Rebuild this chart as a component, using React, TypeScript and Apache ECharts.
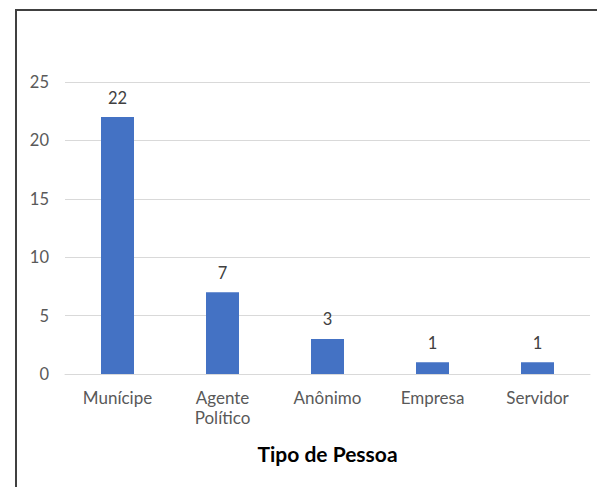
import React, { useEffect, useRef } from "react";
import * as echarts from "echarts";

const categories = ["Munícipe", "Agente\nPolítico", "Anônimo", "Empresa", "Servidor"];
const values = [22, 7, 3, 1, 1];
const yTicks = [0, 5, 10, 15, 20, 25];
const axisTitle = "Tipo de Pessoa";

const FONT = "Lato, 'Open Sans', sans-serif";

export default function App() {
  const ref = useRef<HTMLDivElement>(null);
  useEffect(() => {
    document.body.style.margin = "0";
    const chart = echarts.init(ref.current!, null, { renderer: "svg" });
    chart.setOption({
      animation: false,
      backgroundColor: "#ffffff",
      grid: { left: 65, right: 7, top: 82, bottom: 113, containLabel: false },
      graphic: [
        {
          type: "rect",
          shape: { x: 16, y: 10, width: 620, height: 520 },
          style: { fill: "none", stroke: "#404040", lineWidth: 2 },
          silent: true,
        },
      ],
      xAxis: {
        type: "category",
        data: categories,
        name: axisTitle,
        nameLocation: "middle",
        nameGap: 69,
        nameTextStyle: { fontFamily: FONT, fontSize: 21, fontWeight: "bold", color: "#000000" },
        axisTick: { show: false },
        axisLine: { lineStyle: { color: "#d9d9d9", width: 1 } },
        axisLabel: {
          fontFamily: FONT,
          fontSize: 17,
          color: "#595959",
          margin: 13,
          lineHeight: 20,
          interval: 0,
        },
      },
      yAxis: {
        type: "value",
        min: yTicks[0],
        max: yTicks[yTicks.length - 1],
        interval: yTicks[1] - yTicks[0],
        axisLine: { show: false },
        axisTick: { show: false },
        splitLine: { lineStyle: { color: "#d9d9d9", width: 1 } },
        axisLabel: { fontFamily: FONT, fontSize: 16.5, color: "#595959", margin: 16 },
      },
      series: [
        {
          type: "bar",
          data: values,
          barWidth: 33,
          itemStyle: { color: "#4472c4" },
          label: {
            show: true,
            position: "top",
            distance: 11,
            fontFamily: FONT,
            fontSize: 16.5,
            color: "#404040",
          },
        },
      ],
    });
    return () => chart.dispose();
  }, []);
  return <div ref={ref} style={{ position: "absolute", left: 0, top: 0, width: 597, height: 487 }} />;
}
